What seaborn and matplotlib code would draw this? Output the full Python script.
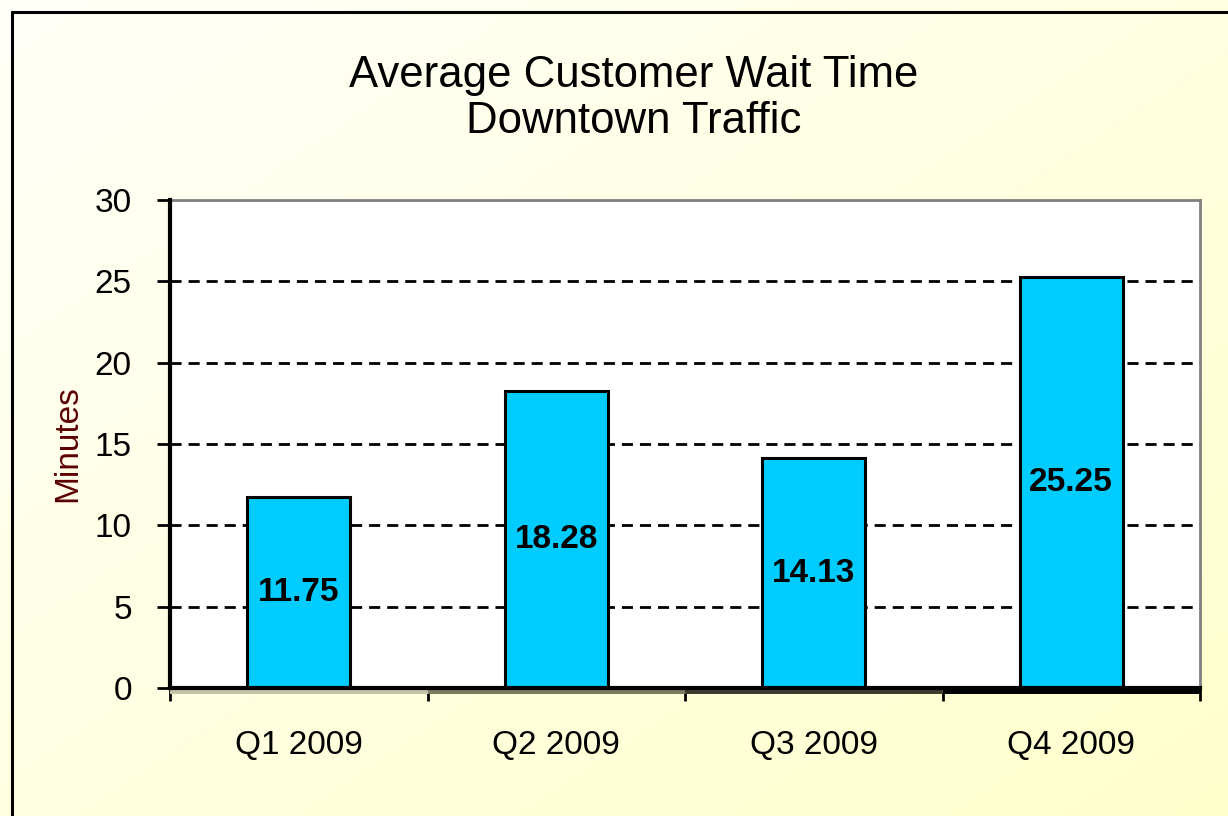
import numpy as np
import pandas as pd
import matplotlib
matplotlib.use('Agg')
import matplotlib.pyplot as plt
import seaborn as sns
from matplotlib.lines import Line2D
from matplotlib.patches import Rectangle
from matplotlib.transforms import blended_transform_factory

quarters = ['Q1 2009', 'Q2 2009', 'Q3 2009', 'Q4 2009']
wait_minutes = [11.75, 18.28, 14.13, 25.25]
y_ticks = [0, 5, 10, 15, 20, 25, 30]
floor_shades = ['#c4c4a8', '#7c7c62', '#3e3e30', '#000000']

df = pd.DataFrame({'quarter': quarters, 'minutes': wait_minutes})

sns.set_style('white')
plt.rcParams['font.family'] = ['Liberation Sans', 'DejaVu Sans']
plt.rcParams['text.color'] = 'black'
plt.rcParams['xtick.color'] = 'black'
plt.rcParams['ytick.color'] = 'black'

W, H = 1228, 816
fig = plt.figure(figsize=(W / 100, H / 100), dpi=100)

# pale yellow diagonal gradient behind everything
bg = fig.add_axes([0, 0, 1, 1], zorder=-10)
gx, gy = np.meshgrid(np.linspace(0, 1, 200), np.linspace(0, 1, 200))
t = np.clip((gx + gy) / 2, 0, 1)
c0 = np.array([1.0, 1.0, 0.975])
c1 = np.array([1.0, 1.0, 0.80])
img = c0 + (c1 - c0) * t[..., None]
bg.imshow(img, aspect='auto', extent=[0, 1, 0, 1], origin='upper')
bg.set_axis_off()

# outer chart border (top and left visible)
fig.add_artist(Line2D([11.5 / W, 11.5 / W], [0, 1 - 11.5 / H], color='black',
                      lw=2.2, transform=fig.transFigure))
fig.add_artist(Line2D([11.5 / W, 1], [1 - 11.5 / H, 1 - 11.5 / H], color='black',
                      lw=2.2, transform=fig.transFigure))

ax = fig.add_axes([170 / W, 1 - 688 / H, 1030 / W, 488 / H])
ax.set_facecolor('white')

sns.barplot(data=df, x='quarter', y='minutes', ax=ax, color='#00CCFF',
            saturation=1, width=0.4, edgecolor='black', linewidth=2.2, zorder=3)

ax.set_xlim(-0.5, len(quarters) - 0.5)
ax.set_ylim(0, 30)
ax.set_yticks(y_ticks)
for v in y_ticks[1:-1]:
    ax.axhline(v, color='black', lw=2, ls=(0, (4, 2.5)), zorder=1)

for i, v in enumerate(wait_minutes):
    ax.text(i, v / 2, f'{v:.2f}', ha='center', va='center',
            fontsize=24, fontweight='bold', color='black', zorder=5)

# shaded 3-D floor strip under the category axis
trans = blended_transform_factory(ax.transData, ax.transAxes)
for i, shade in enumerate(floor_shades):
    ax.add_patch(Rectangle((i - 0.5, -6 / 488), 1, 6 / 488, transform=trans,
                           facecolor=shade, edgecolor='none', clip_on=False,
                           zorder=2))

ax.set_xticks(range(len(quarters)))
ax.set_xticklabels(quarters)
ax.set_xticks(np.arange(-0.5, len(quarters)), minor=True)
ax.tick_params(axis='x', which='major', length=0, pad=30, labelsize=24)
ax.tick_params(axis='x', which='minor', direction='out', length=9, width=2,
               color='black', bottom=True)
ax.tick_params(axis='y', direction='out', length=9.5, width=2, color='black',
               left=True, labelsize=24, pad=18)
ax.set_xlabel('')
ax.set_ylabel('Minutes', fontsize=24, color='#5c0000', labelpad=8)

for side in ['left', 'bottom']:
    ax.spines[side].set_color('black')
    ax.spines[side].set_linewidth(3)
    ax.spines[side].set_zorder(4)
for side in ['top', 'right']:
    ax.spines[side].set_color('#808080')
    ax.spines[side].set_linewidth(2)

fig.text(634 / W, 1 - 87 / H, 'Average Customer Wait Time', ha='center',
         va='baseline', fontsize=31.5, color='black')
fig.text(634 / W, 1 - 133 / H, 'Downtown Traffic', ha='center',
         va='baseline', fontsize=31.5, color='black')

fig.savefig('out.png', dpi=100)
plt.close()
